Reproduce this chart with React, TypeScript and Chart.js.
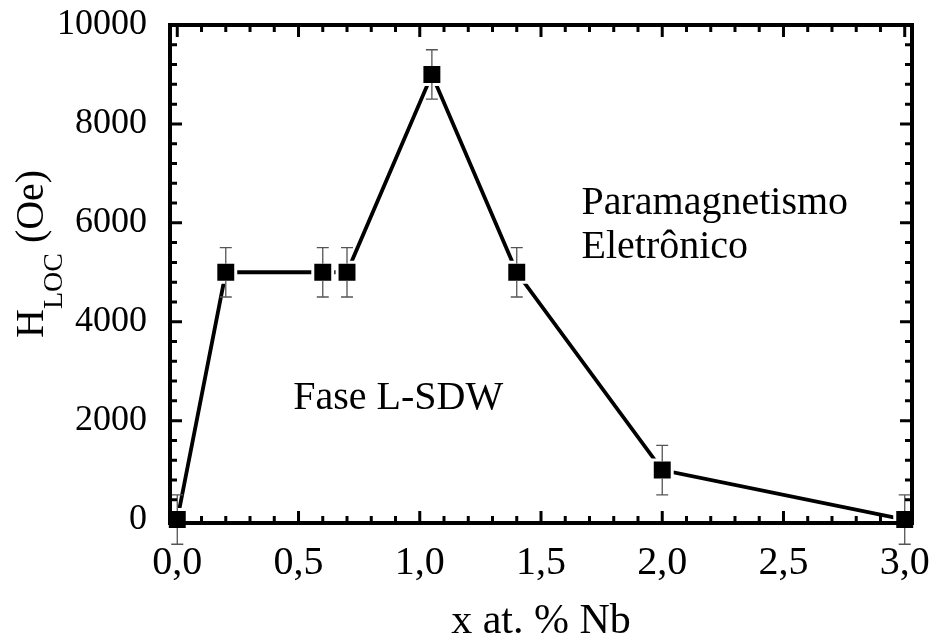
import React, { useEffect, useRef } from 'react';
import { Chart, registerables } from 'chart.js';

Chart.register(...registerables);

// ---- data ----
const nbContent = [0, 0.2, 0.6, 0.7, 1.05, 1.4, 2.0, 3.0];
const hLoc = [0, 5000, 5000, 5000, 9000, 5000, 1000, 0];
const hLocError = [500, 500, 500, 500, 500, 500, 500, 500];
const xTickValues = [0, 0.5, 1.0, 1.5, 2.0, 2.5, 3.0];
const yTickValues = [0, 2000, 4000, 6000, 8000, 10000];
const xMinorStep = 0.1;
const yMinorStep = 400;
const xTitle = 'x at. % Nb';
const yTitleMain = 'H';
const yTitleSub = 'LOC';
const yTitleUnit = '(Oe)';
const annotationTexts = ['Fase L-SDW', 'Paramagnetismo', 'Eletrônico'];

const FONT = "'Liberation Serif', 'Times New Roman', Times, serif";

const framePlugin = {
  id: 'originFrame',
  afterDatasetsDraw(chart: any) {
    const ctx = chart.ctx;
    const xs = chart.scales.x;
    const ys = chart.scales.y;
    ctx.save();
    ctx.strokeStyle = '#555555';
    ctx.lineWidth = 1.3;
    const half = 8.5;
    const cap = 6;
    nbContent.forEach((xv, i) => {
      const px = xs.getPixelForValue(xv);
      const py = ys.getPixelForValue(hLoc[i]);
      const top = ys.getPixelForValue(hLoc[i] + hLocError[i]);
      const bot = ys.getPixelForValue(hLoc[i] - hLocError[i]);
      ctx.beginPath();
      ctx.moveTo(px, top);
      ctx.lineTo(px, py - half);
      ctx.moveTo(px, py + half);
      ctx.lineTo(px, bot);
      ctx.moveTo(px - cap, top);
      ctx.lineTo(px + cap, top);
      ctx.moveTo(px - cap, bot);
      ctx.lineTo(px + cap, bot);
      ctx.stroke();
    });
    ctx.restore();
  },
  afterDraw(chart: any) {
    const ctx = chart.ctx;
    const xs = chart.scales.x;
    const ys = chart.scales.y;
    const { left, right, top, bottom } = chart.chartArea;
    ctx.save();
    // ticks (inward, all four sides)
    ctx.strokeStyle = '#000';
    ctx.lineWidth = 3;
    ctx.lineCap = 'butt';
    const major = 12;
    const minor = 7;
    const xMin = xTickValues[0];
    const xMax = xTickValues[xTickValues.length - 1];
    for (let k = 0; xMin + k * xMinorStep <= xMax + 1e-9; k++) {
      const v = xMin + k * xMinorStep;
      const isMajor = xTickValues.some((t) => Math.abs(t - v) < 1e-6);
      const len = isMajor ? major : minor;
      const px = xs.getPixelForValue(v);
      ctx.beginPath();
      ctx.moveTo(px, bottom);
      ctx.lineTo(px, bottom - len);
      ctx.moveTo(px, top);
      ctx.lineTo(px, top + len);
      ctx.stroke();
    }
    const yMin = yTickValues[0];
    const yMax = yTickValues[yTickValues.length - 1];
    for (let k = 0; yMin + k * yMinorStep <= yMax + 1e-6; k++) {
      const v = yMin + k * yMinorStep;
      const isMajor = yTickValues.some((t) => Math.abs(t - v) < 1e-6);
      const len = isMajor ? major : minor;
      const py = ys.getPixelForValue(v);
      ctx.beginPath();
      ctx.moveTo(left, py);
      ctx.lineTo(left + len, py);
      ctx.moveTo(right, py);
      ctx.lineTo(right - len, py);
      ctx.stroke();
    }
    // frame
    ctx.lineWidth = 4;
    ctx.strokeRect(left, top, right - left, bottom - top);

    // x title
    ctx.fillStyle = '#000';
    ctx.font = `42px ${FONT}`;
    ctx.textAlign = 'center';
    ctx.textBaseline = 'alphabetic';
    ctx.fillText(xTitle, (left + right) / 2, 633);

    // y title with subscript
    ctx.save();
    ctx.translate(43, 338);
    ctx.rotate(-Math.PI / 2);
    ctx.textAlign = 'left';
    ctx.font = `40px ${FONT}`;
    ctx.fillText(yTitleMain, 0, 0);
    let off = ctx.measureText(yTitleMain).width;
    ctx.font = `28px ${FONT}`;
    ctx.fillText(yTitleSub, off, 19);
    off += ctx.measureText(yTitleSub).width;
    ctx.font = `40px ${FONT}`;
    ctx.fillText(' ' + yTitleUnit, off, 0);
    ctx.restore();

    // annotations
    ctx.font = `40px ${FONT}`;
    ctx.textAlign = 'left';
    ctx.fillText(annotationTexts[0], xs.getPixelForValue(0.478), ys.getPixelForValue(2243));
    ctx.fillText(annotationTexts[1], xs.getPixelForValue(1.667), ys.getPixelForValue(6187));
    ctx.fillText(annotationTexts[2], xs.getPixelForValue(1.667), ys.getPixelForValue(5282));
    ctx.restore();
  },
};

export default function App() {
  const ref = useRef<HTMLCanvasElement | null>(null);
  useEffect(() => {
    document.body.style.margin = '0';
    const canvas = ref.current;
    if (!canvas) return;
    const chart = new Chart(canvas, {
      type: 'line',
      data: {
        datasets: [
          {
            data: nbContent.map((x, i) => ({ x, y: hLoc[i] })),
            borderColor: '#000',
            borderWidth: 3.8,
            pointStyle: 'rect',
            pointRadius: 14.1,
            pointHoverRadius: 14.1,
            pointBackgroundColor: '#000',
            pointBorderColor: '#fff',
            pointBorderWidth: 3,
            pointHoverBorderWidth: 3,
            tension: 0,
            clip: false as any,
          },
        ],
      },
      options: {
        responsive: false,
        animation: false,
        events: [],
        layout: { padding: { left: 0, top: 25, right: 21, bottom: 0 } },
        plugins: { legend: { display: false }, tooltip: { enabled: false } },
        scales: {
          x: {
            type: 'linear',
            min: -0.03,
            max: 3.03,
            grid: { display: false, drawTicks: false },
            border: { display: false },
            afterBuildTicks: (s: any) => {
              s.ticks = xTickValues.map((value) => ({ value }));
            },
            afterFit: (s: any) => {
              s.height = 113;
              s.paddingLeft = 0;
              s.paddingRight = 0;
            },
            ticks: {
              color: '#000',
              font: { family: FONT, size: 40 },
              padding: 16,
              maxRotation: 0,
              autoSkip: false,
              callback: (v: any) => Number(v).toFixed(1).replace('.', ','),
            },
          },
          y: {
            type: 'linear',
            min: -70,
            max: 10000,
            grid: { display: false, drawTicks: false },
            border: { display: false },
            afterBuildTicks: (s: any) => {
              s.ticks = yTickValues.map((value) => ({ value }));
            },
            afterFit: (s: any) => {
              s.width = 170;
              s.paddingTop = 0;
              s.paddingBottom = 0;
            },
            ticks: {
              color: '#000',
              font: { family: FONT, size: 36 },
              padding: 23,
              autoSkip: false,
              callback: (v: any) => String(v),
            },
          },
        },
      },
      plugins: [framePlugin],
    });
    return () => chart.destroy();
  }, []);
  return (
    <div style={{ width: 933, height: 636 }}>
      <canvas ref={ref} width={933} height={636} style={{ display: 'block' }} />
    </div>
  );
}
